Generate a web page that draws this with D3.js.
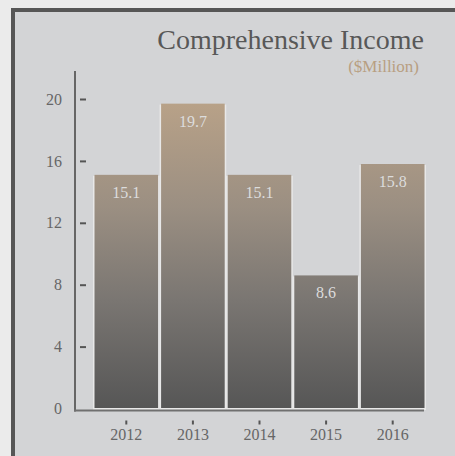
<!DOCTYPE html>
<html>
<head>
<meta charset="utf-8">
<script src="https://cdn.jsdelivr.net/npm/d3@7"></script>
<style>
  html, body { margin: 0; padding: 0; background: #ebebeb; }
  svg { display: block; }
  text { font-family: "Liberation Serif", "DejaVu Serif", serif; }
</style>
</head>
<body>
<svg id="chart" width="455" height="456"></svg>
<script>
// Comprehensive income by year, $ million
const years = ["2012", "2013", "2014", "2015", "2016"];
const income = [15.1, 19.7, 15.1, 8.6, 15.8];
const yTicks = [0, 4, 8, 12, 16, 20];
const title = "Comprehensive Income";
const subtitle = "($Million)";

const svg = d3.select("#chart");

// framed panel
svg.append("rect")
  .attr("x", 13).attr("y", 10)
  .attr("width", 460).attr("height", 460)
  .attr("fill", "#d3d4d6")
  .attr("stroke", "#565656")
  .attr("stroke-width", 4);

const x = d3.scaleBand().domain(years).range([94, 425]).paddingInner(0.03);
const y = d3.scaleLinear().domain([0, 20]).range([408.5, 99]);

// shared vertical gradient across all bars
const defs = svg.append("defs");
const grad = defs.append("linearGradient")
  .attr("id", "barGrad")
  .attr("gradientUnits", "userSpaceOnUse")
  .attr("x1", 0).attr("x2", 0)
  .attr("y1", y(20)).attr("y2", y(0));
grad.append("stop").attr("offset", "0%").attr("stop-color", "#b9a288");
grad.append("stop").attr("offset", "35%").attr("stop-color", "#9b8f82");
grad.append("stop").attr("offset", "65%").attr("stop-color", "#7a7672");
grad.append("stop").attr("offset", "100%").attr("stop-color", "#565656");

const data = years.map((yr, i) => ({ year: yr, value: income[i] }));

// light backing that shows as thin separators beside and under each bar
svg.append("g").selectAll("rect")
  .data(data)
  .join("rect")
  .attr("x", d => x(d.year) - 1)
  .attr("y", d => y(d.value) + 1)
  .attr("width", x.bandwidth() + 2)
  .attr("height", d => y(0) - y(d.value) + 0.5)
  .attr("fill", "#e8e8e8");

// bars
svg.append("g").selectAll("rect")
  .data(data)
  .join("rect")
  .attr("x", d => x(d.year) + 0.5)
  .attr("y", d => y(d.value))
  .attr("width", x.bandwidth() - 1)
  .attr("height", d => y(0) - y(d.value) - 0.5)
  .attr("fill", "url(#barGrad)");

// value labels
svg.append("g").selectAll("text")
  .data(data)
  .join("text")
  .attr("x", d => x(d.year) + x.bandwidth() / 2)
  .attr("y", d => y(d.value) + 23)
  .attr("text-anchor", "middle")
  .attr("font-size", 16)
  .attr("fill", "#dcdcdc")
  .text(d => d.value.toFixed(1));

// y axis: labels left of the line, short dashes right of it
const yAxis = d3.axisLeft(y).tickValues(yTicks).tickSize(0).tickPadding(13);
const gy = svg.append("g").attr("transform", "translate(75,0)").call(yAxis);
gy.select(".domain").remove();
gy.selectAll(".tick text")
  .attr("font-size", 16)
  .attr("fill", "#666")
  .attr("font-family", "Liberation Serif, serif");
gy.selectAll(".tick")
  .filter(d => d > 0)
  .append("line")
  .attr("x1", 5).attr("x2", 11)
  .attr("stroke", "#555")
  .attr("stroke-width", 2);
svg.append("line")
  .attr("x1", 75).attr("x2", 75)
  .attr("y1", 71).attr("y2", y(0) + 3)
  .attr("stroke", "#666").attr("stroke-width", 2);

// x axis baseline and ticks
svg.append("line")
  .attr("x1", 74).attr("x2", 424)
  .attr("y1", y(0) + 2).attr("y2", y(0) + 2)
  .attr("stroke", "#707070").attr("stroke-width", 2);
const xAxis = d3.axisBottom(x).tickSize(0).tickPadding(0);
const gx = svg.append("g").attr("transform", `translate(0,${y(0) + 12})`).call(xAxis);
gx.select(".domain").remove();
gx.selectAll(".tick line").remove();
gx.selectAll(".tick")
  .append("line")
  .attr("y1", 0).attr("y2", 4)
  .attr("stroke", "#555").attr("stroke-width", 2);
gx.selectAll(".tick text")
  .attr("dy", null)
  .attr("y", 19)
  .attr("font-size", 16)
  .attr("fill", "#666")
  .attr("font-family", "Liberation Serif, serif");

// titles
svg.append("text")
  .attr("x", 424).attr("y", 49)
  .attr("text-anchor", "end")
  .attr("font-size", 28)
  .attr("fill", "#585858")
  .text(title);
svg.append("text")
  .attr("x", 419).attr("y", 72)
  .attr("text-anchor", "end")
  .attr("font-size", 17)
  .attr("fill", "#b89f82")
  .text(subtitle);
</script>
</body>
</html>
